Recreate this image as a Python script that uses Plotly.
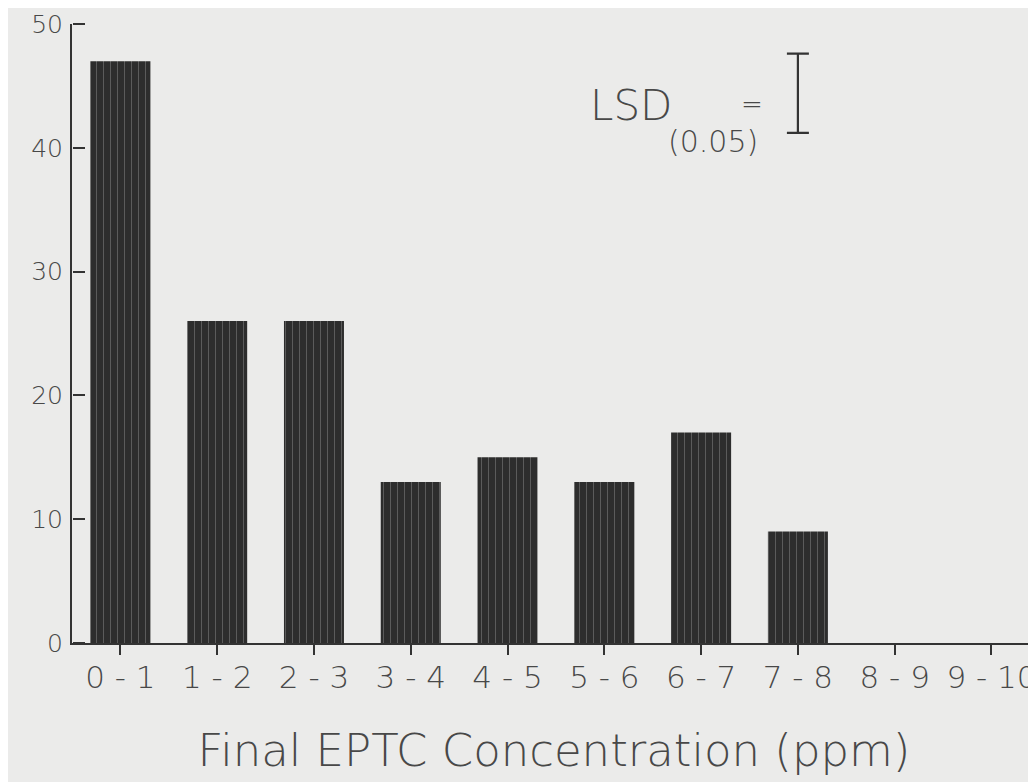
import plotly.graph_objects as go

categories = ["0 - 1", "1 - 2", "2 - 3", "3 - 4", "4 - 5", "5 - 6", "6 - 7", "7 - 8", "8 - 9", "9 - 10"]
values = [47, 26, 26, 13, 15, 13, 17, 9, 0, 0]
y_ticks = [0, 10, 20, 30, 40, 50]
y_range = [0, 50]
lsd_value = 6.4
lsd_center_y = 44.4
lsd_x_index = 7

FONT = "DejaVu Sans"
TXT = "#484848"
W = 300

fig = go.Figure()
fig.add_trace(go.Bar(
    x=list(range(len(categories))), y=values, width=0.62,
    marker=dict(color="#2d2d2d", line=dict(width=0),
                pattern=dict(shape="|", fgcolor="#8a8a8a", size=7, solidity=0.14, fillmode="overlay")),
    showlegend=False, hoverinfo="skip",
))
# LSD bar drawn on an overlaying axis with the same scale (that axis only supplies right-pointing ticks)
fig.add_trace(go.Scatter(
    x=[lsd_x_index], y=[lsd_center_y], mode="markers", yaxis="y2",
    marker=dict(size=1, color="rgba(0,0,0,0)"),
    error_y=dict(type="data", array=[lsd_value / 2], symmetric=True, color="#333", thickness=2.2, width=11),
    showlegend=False, hoverinfo="skip",
))

fig.add_annotation(x=5.28, y=43.4, xref="x", yref="y", text="LSD", showarrow=False,
                   font=dict(family=FONT, size=42, color=TXT, weight=W), xanchor="center", yanchor="middle")
fig.add_annotation(x=6.12, y=40.5, xref="x", yref="y", text="(0.05)", showarrow=False,
                   font=dict(family=FONT, size=30, color=TXT, weight=W), xanchor="center", yanchor="middle")
fig.add_annotation(x=6.53, y=43.5, xref="x", yref="y", text="=", showarrow=False,
                   font=dict(family=FONT, size=26, color=TXT, weight=W), xanchor="center", yanchor="middle")

# page body adds an 8px margin, so the figure is 8px smaller than the window
fig.update_layout(
    width=1028, height=774,
    margin=dict(l=64, r=0, t=16, b=139),
    paper_bgcolor="#ebebea", plot_bgcolor="#ebebea",
    font=dict(family=FONT, color=TXT, weight=W),
    bargap=0.38,
    yaxis2=dict(overlaying="y", side="right", anchor="free", position=0,
                range=y_range, tickmode="array", tickvals=y_ticks,
                showgrid=False, zeroline=False, showline=False, showticklabels=False,
                ticks="outside", ticklen=12, tickwidth=2, tickcolor="#333"),
)
fig.update_xaxes(
    range=[-0.5, 9.46], tickmode="array", tickvals=list(range(len(categories))), ticktext=categories,
    showgrid=False, zeroline=False, showline=True, linecolor="#333", linewidth=2,
    ticks="outside", ticklen=10, tickwidth=2, tickcolor="#333",
    ticklabeloverflow="allow", ticklabelstandoff=-4,
    tickfont=dict(family=FONT, size=31, color=TXT, weight=W),
    title=dict(text="Final EPTC Concentration (ppm)", font=dict(family=FONT, size=45, color=TXT, weight=W), standoff=40),
)
fig.update_yaxes(
    selector=dict(overlaying=None),
    range=y_range, tickmode="array", tickvals=y_ticks,
    showgrid=False, zeroline=False, showline=True, linecolor="#333", linewidth=2,
    ticks="", ticklabelstandoff=2,
    tickfont=dict(family=FONT, size=25, color=TXT, weight=W),
)

fig.write_html("out.html")
